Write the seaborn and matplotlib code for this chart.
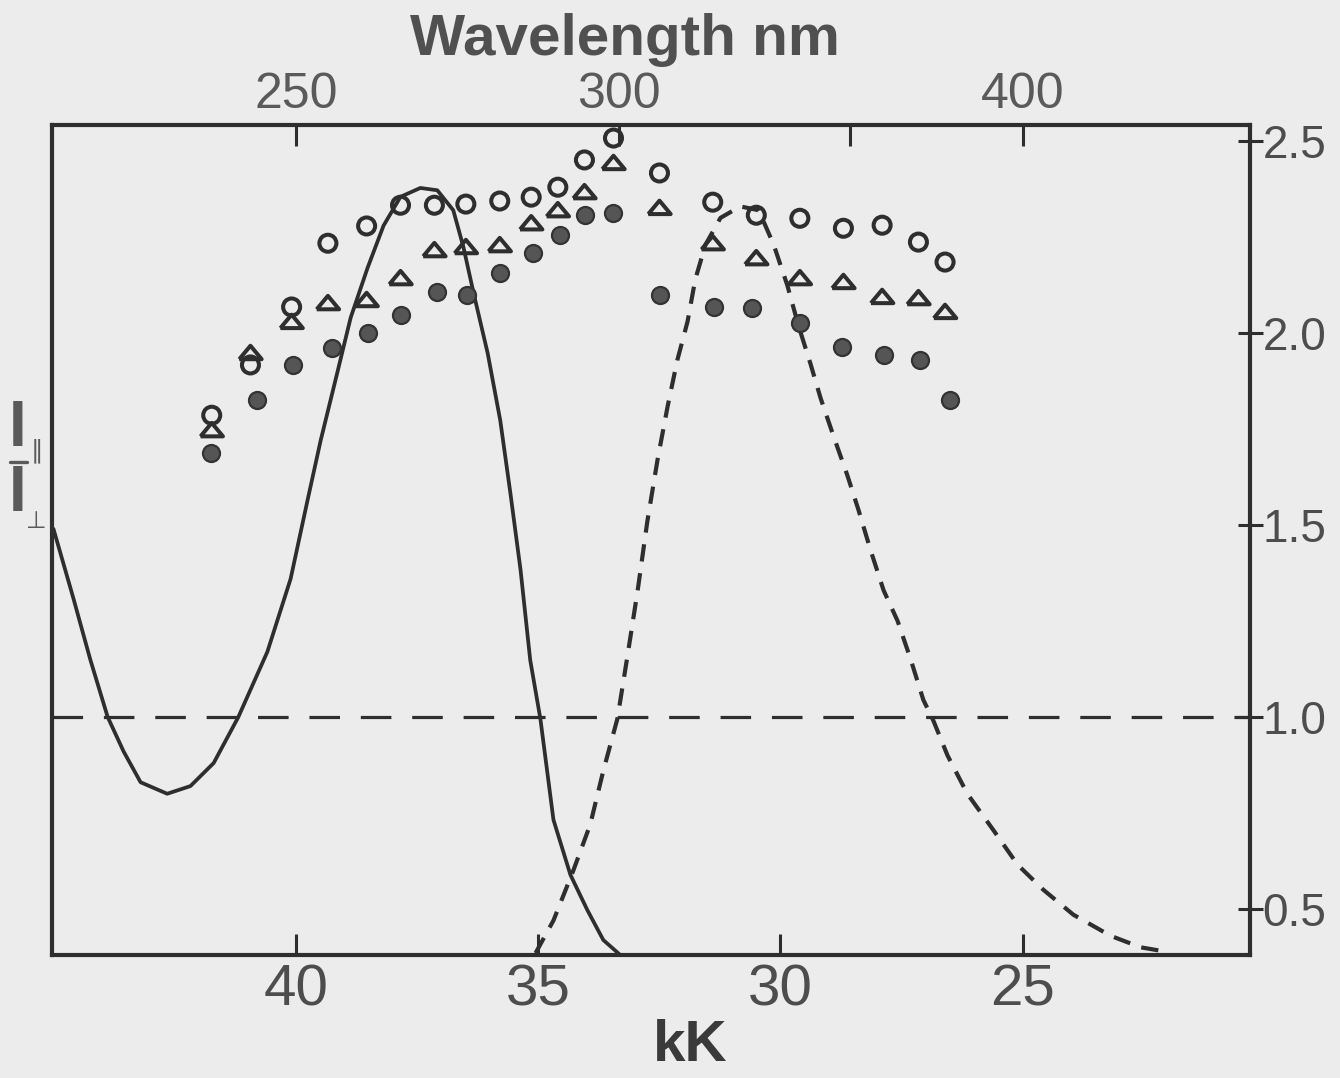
import numpy as np
import pandas as pd
import matplotlib
matplotlib.use("Agg")
import matplotlib.pyplot as plt
from matplotlib.lines import Line2D
import seaborn as sns

# ---------------- data ----------------
solid_kk = [45.02, 44.61, 44.26, 43.90, 43.57, 43.22, 42.67, 42.19, 41.71, 41.20,
            40.60, 40.12, 39.77, 39.50, 39.15, 38.88, 38.53, 38.20, 37.85, 37.44,
            37.09, 36.76, 36.55, 36.34, 36.05, 35.79, 35.58, 35.37, 35.17, 34.96,
            34.69, 34.34, 33.99, 33.66, 33.31]
solid_ratio = [1.49, 1.31, 1.15, 1.00, 0.91, 0.83, 0.80, 0.82, 0.88, 1.00,
               1.17, 1.36, 1.565, 1.72, 1.90, 2.04, 2.17, 2.28, 2.355, 2.378,
               2.372, 2.32, 2.224, 2.104, 1.948, 1.773, 1.583, 1.383, 1.148, 0.995,
               0.732, 0.589, 0.497, 0.419, 0.38]

dashed_kk = [35.06, 34.69, 34.28, 33.93, 33.66, 33.37, 33.16, 32.95, 32.75, 32.54,
             32.33, 32.13, 31.92, 31.76, 31.55, 31.24, 30.83, 30.45, 30.14, 29.86,
             29.63, 29.38, 29.17, 28.90, 28.62, 28.39, 28.14, 27.87, 27.58, 27.31,
             27.05, 26.84, 26.55, 26.14, 25.60, 25.10, 24.57, 23.95, 23.18, 22.56,
             22.00]
dashed_ratio = [0.385, 0.47, 0.60, 0.72, 0.86, 0.995, 1.16, 1.33, 1.51, 1.67,
                1.81, 1.93, 2.03, 2.14, 2.23, 2.30, 2.33, 2.32, 2.23, 2.125,
                2.02, 1.92, 1.83, 1.73, 1.63, 1.54, 1.435, 1.33, 1.25, 1.15,
                1.045, 0.99, 0.90, 0.80, 0.705, 0.615, 0.55, 0.485, 0.43, 0.40,
                0.388]

open_kk = [41.75, 40.95, 40.10, 39.35, 38.55, 37.85, 37.15, 36.50, 35.80, 35.15,
           34.60, 34.05, 33.45, 32.50, 31.40, 30.50, 29.60, 28.70, 27.90, 27.15,
           26.60]
circle_ratio = [1.786, 1.917, 2.068, 2.234, 2.279, 2.333, 2.333, 2.336, 2.344, 2.354,
                2.380, 2.451, 2.508, 2.417, 2.341, 2.307, 2.299, 2.273, 2.281, 2.237,
                2.185]
triangle_ratio = [1.747, 1.948, 2.029, 2.078, 2.086, 2.143, 2.216, 2.224, 2.229, 2.286,
                  2.320, 2.367, 2.443, 2.326, 2.234, 2.195, 2.143, 2.133, 2.094, 2.091,
                  2.055]
dot_kk = [41.76, 40.81, 40.08, 39.26, 38.53, 37.85, 37.09, 36.47, 35.79, 35.12,
          34.55, 34.03, 33.45, 32.48, 31.38, 30.58, 29.59, 28.72, 27.87, 27.11,
          26.49]
dot_ratio = [1.688, 1.826, 1.917, 1.961, 2.000, 2.047, 2.107, 2.099, 2.156, 2.208,
             2.255, 2.307, 2.313, 2.099, 2.068, 2.065, 2.026, 1.964, 1.943, 1.930,
             1.826]

reference_level = 1.0
kk_ticks = [40, 35, 30, 25]
kk_labels = ["40", "35", "30", "25"]
nm_ticks = [250, 300, 350, 400]
nm_labels = ["250", "300", "", "400"]
ratio_ticks = [0.5, 1.0, 1.5, 2.0, 2.5]
ratio_labels = ["0.5", "1.0", "1.5", "2.0", "2.5"]

# ---------------- style ----------------
BG = "#ececec"
INK = "#2e2e2e"
GREY_TXT = "#4d4d4d"

sns.set_theme(style="ticks")
plt.rcParams["font.family"] = ["Liberation Sans", "DejaVu Sans"]
plt.rcParams["lines.scale_dashes"] = False
NARROW = ["Liberation Sans Narrow", "Liberation Sans", "DejaVu Sans"]

fig = plt.figure(figsize=(13.4, 10.78), dpi=100, facecolor=BG)
ax = fig.add_axes([52 / 1340, (1078 - 955) / 1078, (1250 - 52) / 1340, (955 - 125) / 1078])
ax.set_facecolor(BG)

curves_solid = pd.DataFrame({"kK": solid_kk, "ratio": solid_ratio})
curves_dashed = pd.DataFrame({"kK": dashed_kk, "ratio": dashed_ratio})

sns.lineplot(data=curves_solid, x="kK", y="ratio", sort=False, estimator=None,
             color=INK, linewidth=2.7, ax=ax)
sns.lineplot(data=curves_dashed, x="kK", y="ratio", sort=False, estimator=None,
             color=INK, linewidth=3.0, ax=ax)
ax.lines[-1].set_dashes((12.5, 8.5))

ax.axhline(reference_level, color=INK, linewidth=2.3, dashes=(22, 15))

tri = [(-1.0, -0.55), (1.0, -0.55), (0.0, 0.65), (-1.0, -0.55)]

df_c = pd.DataFrame({"kK": open_kk, "ratio": circle_ratio})
df_t = pd.DataFrame({"kK": open_kk, "ratio": triangle_ratio})
df_d = pd.DataFrame({"kK": dot_kk, "ratio": dot_ratio})

sns.scatterplot(data=df_c, x="kK", y="ratio", marker="o", s=150, facecolor="none",
                edgecolor=INK, linewidth=2.9, ax=ax, zorder=4)
sns.scatterplot(data=df_t, x="kK", y="ratio", marker=tri, s=260, facecolor="none",
                edgecolor=INK, linewidth=2.9, ax=ax, zorder=4)
sns.scatterplot(data=df_d, x="kK", y="ratio", marker="o", s=150, facecolor="#555555",
                edgecolor="#333333", linewidth=1.6, ax=ax, zorder=4)

ax.set_xlim(45.05, 20.3)
ax.set_ylim(0.38, 2.542)
ax.set_xlabel("")
ax.set_ylabel("")

for sp in ax.spines.values():
    sp.set_visible(True)
    sp.set_linewidth(3.0)
    sp.set_color(INK)

# bottom axis (kK)
ax.set_xticks(kk_ticks)
ax.set_xticklabels(kk_labels)
ax.tick_params(axis="x", direction="in", length=15, width=2.2, color=INK,
               labelsize=42, labelcolor=GREY_TXT, pad=6, top=False, bottom=True)
for lab in ax.get_xticklabels():
    lab.set_fontfamily(NARROW)

# right axis (ratio)
ax.yaxis.tick_right()
ax.set_yticks(ratio_ticks)
ax.set_yticklabels(ratio_labels)
ax.tick_params(axis="y", direction="inout", length=18, width=2.2, color=INK,
               labelsize=33, labelcolor=GREY_TXT, pad=0, left=False, right=True)

# top axis (wavelength nm)
sec = ax.secondary_xaxis("top", functions=(lambda k: 1e4 / np.asarray(k, float),
                                           lambda nm: 1e4 / np.asarray(nm, float)))
sec.set_xticks(nm_ticks)
sec.set_xticklabels(nm_labels)
sec.tick_params(axis="x", direction="in", length=15, width=2.2, color=INK,
                labelsize=36, labelcolor="#5a5a5a", pad=5)
sec.spines["top"].set_visible(False)
for lab in sec.get_xticklabels():
    lab.set_fontfamily(NARROW)

# titles
fig.text(625 / 1340, 1 - 40 / 1078, "Wavelength nm", ha="center", va="center",
         fontsize=42, fontweight="bold", color="#505050", family=NARROW)
fig.text(690 / 1340, 1 - 1046 / 1078, "kK", ha="center", va="center",
         fontsize=42, fontweight="bold", color="#3a3a3a", family=NARROW)

# left label: I_par / I_perp stacked
fig.text(18 / 1340, 1 - 429 / 1078, "I", ha="center", va="center", fontsize=46,
         fontweight="bold", color="#5a5a5a", family=NARROW)
fig.text(37 / 1340, 1 - 451 / 1078, "\u2225", ha="center", va="center", fontsize=18,
         color="#5a5a5a", family=["DejaVu Sans"])
fig.add_artist(Line2D([10 / 1340, 27 / 1340], [1 - 462 / 1078, 1 - 462 / 1078],
                      color="#5a5a5a", linewidth=2.4, transform=fig.transFigure))
fig.text(18 / 1340, 1 - 494 / 1078, "I", ha="center", va="center", fontsize=46,
         fontweight="bold", color="#5a5a5a", family=NARROW)
fig.text(36 / 1340, 1 - 521 / 1078, "\u22a5", ha="center", va="center", fontsize=17,
         color="#5a5a5a", family=["DejaVu Sans"])

fig.savefig("out.png", dpi=100, facecolor=BG)
